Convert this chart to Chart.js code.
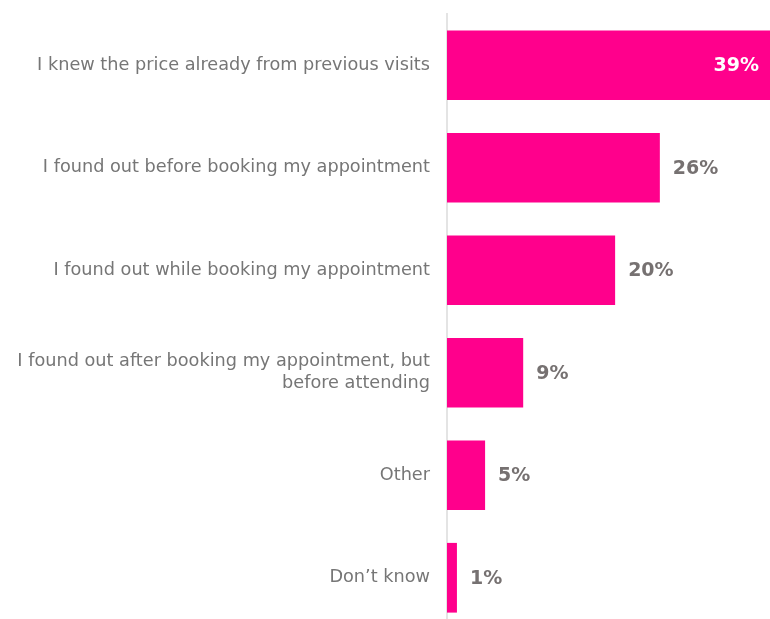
<!DOCTYPE html>
<html>
<head>
<meta charset="utf-8">
<script src="https://cdn.jsdelivr.net/npm/chart.js@4/dist/chart.umd.min.js"></script>
<style>
  html, body { margin: 0; padding: 0; background: #fff; overflow: hidden; }
  #wrap { width: 770px; height: 630px; position: relative; }
</style>
</head>
<body>
<div id="wrap"><canvas id="myChart"></canvas></div>
<script>
const categories = [
  'I knew the price already from previous visits',
  'I found out before booking my appointment',
  'I found out while booking my appointment',
  ['I found out after booking my appointment, but', 'before attending'],
  'Other',
  'Don\u2019t know'
]
const values = [39, 25.7, 20.3, 9.2, 4.6, 1.2]
const valueLabels = ['39%', '26%', '20%', '9%', '5%', '1%']

// draws the % labels next to / inside the bars
const barLabels = {
  id: 'barLabels',
  afterDatasetsDraw(chart) {
    const ctx = chart.ctx
    const meta = chart.getDatasetMeta(0)
    ctx.save()
    ctx.font = 'bold 19px "DejaVu Sans", sans-serif'
    ctx.textBaseline = 'middle'
    meta.data.forEach((bar, i) => {
      if (i === 0) {
        ctx.fillStyle = '#ffffff'
        ctx.textAlign = 'right'
        ctx.fillText(valueLabels[i], bar.x - 11, bar.y + 1)
      } else {
        ctx.fillStyle = '#767171'
        ctx.textAlign = 'left'
        ctx.fillText(valueLabels[i], bar.x + 13, bar.y + 1)
      }
    })
    ctx.restore()
  }
}

new Chart(document.getElementById('myChart'), {
  type: 'bar',
  data: {
    labels: categories,
    datasets: [{
      data: values,
      backgroundColor: '#ff008c',
      borderWidth: 0,
      categoryPercentage: 1,
      barPercentage: 0.68
    }]
  },
  options: {
    indexAxis: 'y',
    responsive: true,
    maintainAspectRatio: false,
    animation: false,
    layout: { padding: { top: 14, bottom: 1, left: 0, right: 0 } },
    plugins: { legend: { display: false }, tooltip: { enabled: false } },
    scales: {
      x: { display: false, min: 0, max: 39 },
      y: {
        grid: { display: false, drawTicks: false },
        border: { display: true, color: '#e4e4e4', width: 2 },
        ticks: {
          color: '#767676',
          padding: 17,
          font: { family: '"DejaVu Sans", sans-serif', size: 17.7, lineHeight: 1.24 }
        },
        afterFit(scale) {
          scale.width = 447
          scale.paddingTop = 0
          scale.paddingBottom = 0
        }
      }
    }
  },
  plugins: [barLabels]
})
</script>
</body>
</html>
